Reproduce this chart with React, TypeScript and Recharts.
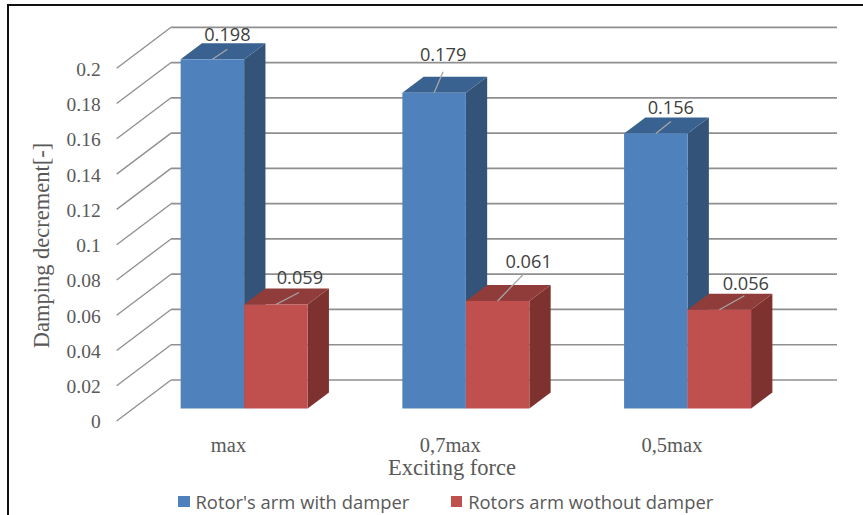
import { Bar, BarChart, CartesianGrid, Label, LabelList, Legend, XAxis, YAxis } from 'recharts';

const categories = ['max', '0,7max', '0,5max'];
const withDamper = [0.198, 0.179, 0.156];
const withoutDamper = [0.059, 0.061, 0.056];
const yTicks = [0, 0.02, 0.04, 0.06, 0.08, 0.1, 0.12, 0.14, 0.16, 0.18, 0.2];

const chartData = categories.map((name, i) => ({
  name,
  withDamper: withDamper[i],
  withoutDamper: withoutDamper[i],
}));

// label placement relative to the top of the front face: [line dx, line dy, text dx, text dy]
const withDamperCallouts = [
  [15, -10, 15, -25.5],
  [9, -21, 9, -39],
  [15, -12, 15, -26],
];
const withoutDamperCallouts = [
  [23, -12, 24, -27],
  [27, -28, 31, -40],
  [25, -14, 26.5, -27],
];

const DEPTH_X = 21.3;
const DEPTH_Y = 16;
const GREY = '#595959';
const SERIF = '"Liberation Serif", serif';
const SANS = '"Open Sans", sans-serif';

function box3d(front: string, top: string, side: string) {
  return function Box({ x, y, width, height }: any) {
    const r = x + width;
    const b = y + height;
    return (
      <g>
        <polygon
          points={`${r},${y} ${r + DEPTH_X},${y - DEPTH_Y} ${r + DEPTH_X},${b - DEPTH_Y} ${r},${b}`}
          fill={side}
        />
        <polygon
          points={`${x},${y} ${x + DEPTH_X},${y - DEPTH_Y} ${r + DEPTH_X},${y - DEPTH_Y} ${r},${y}`}
          fill={top}
        />
        <rect x={x} y={y} width={width} height={height} fill={front} />
      </g>
    );
  };
}

function callout(list: number[][]) {
  return function Callout({ x, y, width, value, index }: any) {
    const [ldx, ldy, tdx, tdy] = list[index];
    const cx = x + width / 2;
    return (
      <g>
        <line x1={cx} y1={y} x2={cx + ldx} y2={y + ldy} stroke="#a6a6a6" strokeWidth={1.3} />
        <text
          x={cx + tdx}
          y={y + tdy}
          textAnchor="middle"
          dominantBaseline="central"
          fontFamily={SANS}
          fontSize={18.2}
          fill="#404040"
        >
          {value}
        </text>
      </g>
    );
  };
}

// back wall line plus the diagonal running down to the axis label
function gridLine({ x1, y1, x2 }: any) {
  return (
    <g key={y1}>
      <line x1={x1 - 17} y1={y1 + 12.5} x2={x1 + 37.4} y2={y1 - 28.5} stroke="#8f8f8f" strokeWidth={1.3} />
      <line x1={x1 + 37.4} y1={y1 - 28.5} x2={x2 + 38.2} y2={y1 - 28.5} stroke="#8f8f8f" strokeWidth={1.7} />
    </g>
  );
}

function legendContent({ payload }: any) {
  return (
    <div style={{ position: 'relative', height: 24 }}>
      {(payload || []).map((item: any, i: number) => (
        <div
          key={item.value}
          style={{
            position: 'absolute',
            left: i === 0 ? 178 : 450.7,
            top: 0,
            display: 'flex',
            alignItems: 'center',
            whiteSpace: 'nowrap',
            fontFamily: SANS,
            fontSize: 18.4,
            color: GREY,
          }}
        >
          <span style={{ width: 11.5, height: 11.5, background: item.color, marginRight: 6 }} />
          {item.value}
        </div>
      ))}
    </div>
  );
}

export default function App() {
  return (
    <div style={{ position: 'absolute', left: 0, top: 0, width: 863, height: 515, background: '#fff', overflow: 'hidden' }}>
      <div
        style={{
          position: 'absolute',
          left: 6.5,
          top: 3.5,
          width: 857,
          height: 512,
          borderLeft: '2px solid #111',
          borderTop: '2px solid #111',
        }}
      />
      <BarChart
        width={863}
        height={515}
        data={chartData}
        margin={{ top: 55.8, right: 64.2, bottom: 46.5, left: 73.65 }}
        barSize={63.5}
        barGap={0}
        style={{ position: 'absolute', left: 0, top: 0 }}
      >
        <CartesianGrid vertical={false} horizontal={gridLine} />
        <XAxis
          dataKey="name"
          height={60}
          axisLine={false}
          tickLine={false}
          tickSize={0}
          tickMargin={29}
          interval={0}
          tick={{ fill: GREY, fontSize: 20.5, fontFamily: SERIF, dx: -16 }}
        >
          <Label
            content={() => (
              <text x={452} y={467} textAnchor="middle" dominantBaseline="central" fontFamily={SERIF} fontSize={22.5} fill={GREY}>
                Exciting force
              </text>
            )}
          />
        </XAxis>
        <YAxis
          width={60}
          domain={[0, 0.2]}
          ticks={yTicks}
          interval={0}
          axisLine={false}
          tickLine={false}
          tickSize={0}
          tickMargin={33}
          tick={{ fill: GREY, fontSize: 19.5, fontFamily: SERIF, dy: 13 }}
        >
          <Label
            content={() => (
              <text
                transform="translate(41 245.5) rotate(-90)"
                textAnchor="middle"
                dominantBaseline="central"
                fontFamily={SERIF}
                fontSize={22.5}
                fill={GREY}
              >
                Damping decrement[-]
              </text>
            )}
          />
        </YAxis>
        <Legend
          layout="horizontal"
          verticalAlign="middle"
          content={legendContent}
          wrapperStyle={{ top: 489, left: 0, width: 863 }}
        />
        <Bar
          dataKey="withDamper"
          name="Rotor's arm with damper"
          fill="#4f81bd"
          isAnimationActive={false}
          shape={box3d('#4f81bd', '#3a6290', '#335478')}
        >
          <LabelList dataKey="withDamper" content={callout(withDamperCallouts)} />
        </Bar>
        <Bar
          dataKey="withoutDamper"
          name="Rotors arm wothout damper"
          fill="#c0504d"
          isAnimationActive={false}
          shape={box3d('#c0504d', '#903c3a', '#7d3230')}
        >
          <LabelList dataKey="withoutDamper" content={callout(withoutDamperCallouts)} />
        </Bar>
      </BarChart>
    </div>
  );
}
